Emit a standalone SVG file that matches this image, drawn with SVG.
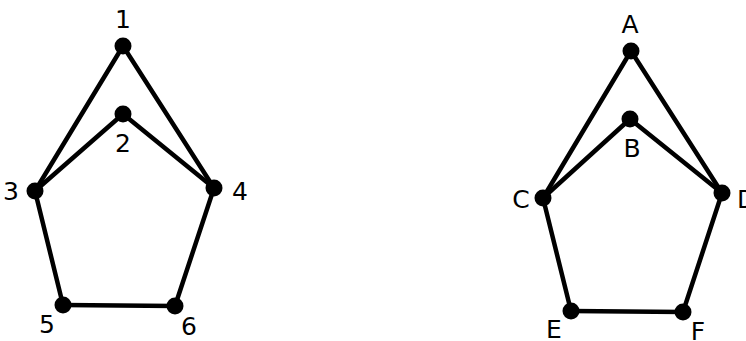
<svg xmlns="http://www.w3.org/2000/svg" width="746" height="341" viewBox="0 0 746 341">
<style>
.e{stroke:#000;stroke-width:4.5;stroke-linecap:round;fill:none}
.n{fill:#000}
.t{font-family:"DejaVu Sans",sans-serif;font-size:25px;fill:#000;text-anchor:middle}
</style>
<rect width="746" height="341" fill="#fff"/>
<g id="edges">
<line class="e" x1="123" y1="46" x2="35" y2="191"/>
<line class="e" x1="123" y1="46" x2="214" y2="188"/>
<line class="e" x1="123" y1="114" x2="35" y2="191"/>
<line class="e" x1="123" y1="114" x2="214" y2="188"/>
<line class="e" x1="35" y1="191" x2="63" y2="305"/>
<line class="e" x1="214" y1="188" x2="175" y2="306"/>
<line class="e" x1="63" y1="305" x2="175" y2="306"/>
<line class="e" x1="631" y1="51" x2="543" y2="198"/>
<line class="e" x1="631" y1="51" x2="722" y2="193"/>
<line class="e" x1="630" y1="119" x2="543" y2="198"/>
<line class="e" x1="630" y1="119" x2="722" y2="193"/>
<line class="e" x1="543" y1="198" x2="571" y2="311"/>
<line class="e" x1="722" y1="193" x2="683" y2="312"/>
<line class="e" x1="571" y1="311" x2="683" y2="312"/>
</g>
<g id="n1"><circle class="n" cx="123" cy="46" r="8.5"/><text class="t" x="123" y="28">1</text></g>
<g id="n2"><circle class="n" cx="123" cy="114" r="8.5"/><text class="t" x="123" y="152">2</text></g>
<g id="n3"><circle class="n" cx="35" cy="191" r="8.5"/><text class="t" x="11" y="200">3</text></g>
<g id="n4"><circle class="n" cx="214" cy="188" r="8.5"/><text class="t" x="240" y="200">4</text></g>
<g id="n5"><circle class="n" cx="63" cy="305" r="8.5"/><text class="t" x="47" y="333">5</text></g>
<g id="n6"><circle class="n" cx="175" cy="306" r="8.5"/><text class="t" x="189" y="335">6</text></g>
<g id="nA"><circle class="n" cx="631" cy="51" r="8.5"/><text class="t" x="630" y="33">A</text></g>
<g id="nB"><circle class="n" cx="630" cy="119" r="8.5"/><text class="t" x="632" y="157">B</text></g>
<g id="nC"><circle class="n" cx="543" cy="198" r="8.5"/><text class="t" x="521" y="208">C</text></g>
<g id="nD"><circle class="n" cx="722" cy="193" r="8.5"/><text class="t" x="737" y="208" text-anchor="start" style="text-anchor:start">D</text></g>
<g id="nE"><circle class="n" cx="571" cy="311" r="8.5"/><text class="t" x="554" y="338">E</text></g>
<g id="nF"><circle class="n" cx="683" cy="312" r="8.5"/><text class="t" x="698" y="340">F</text></g>
</svg>
